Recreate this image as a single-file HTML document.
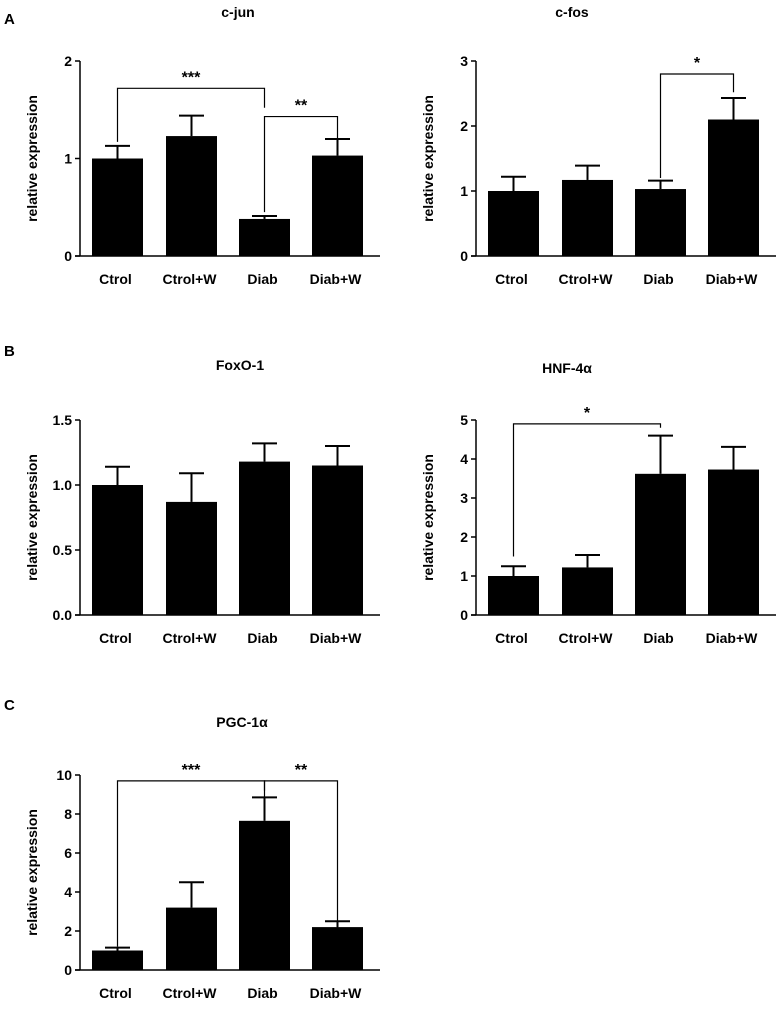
<!DOCTYPE html>
<html><head><meta charset="utf-8"><style>
body{margin:0;background:#fff;}
svg text{font-family:"Liberation Sans",Arial,sans-serif;font-weight:bold;fill:#000;}
</style></head><body>
<svg id="fig" width="780" height="1008" xmlns="http://www.w3.org/2000/svg">
<text x="4" y="24" font-size="15">A</text>
<text x="4" y="356" font-size="15">B</text>
<text x="4" y="710" font-size="15">C</text>
</svg>
<script>
const categories=["Ctrol","Ctrol+W","Diab","Diab+W"];
const cjunVals=[1,1.23,0.38,1.03];
const cjunErr=[0.13,0.21,0.03,0.17];
const cjunTicks=["0","1","2"];
const cfosVals=[1,1.17,1.03,2.1];
const cfosErr=[0.22,0.22,0.13,0.33];
const cfosTicks=["0","1","2","3"];
const foxVals=[1,0.87,1.18,1.15];
const foxErr=[0.14,0.22,0.14,0.15];
const foxTicks=["0.0","0.5","1.0","1.5"];
const hnfVals=[1,1.22,3.62,3.73];
const hnfErr=[0.25,0.32,0.98,0.58];
const hnfTicks=["0","1","2","3","4","5"];
const pgcVals=[1,3.2,7.65,2.2];
const pgcErr=[0.15,1.3,1.2,0.3];
const pgcTicks=["0","2","4","6","8","10"];
// brackets: [fromIdx,toIdx,level,fromLow,toLow,label]
const cjunBr=[[0,2,1.72,1.17,1.52,"***"],[2,3,1.43,0.45,1.2,"**"]];
const cfosBr=[[2,3,2.8,1.2,2.52,"*"]];
const hnfBr=[[0,2,4.9,1.5,4.8,"*"]];
const pgcBr=[[0,2,9.7,1.2,9.2,"***"],[2,3,9.7,8.9,1.5,"**"]];

const svg=document.getElementById('fig');
const NS="http://www.w3.org/2000/svg";
function mk(tag,attrs,parent){const e=document.createElementNS(NS,tag);for(const k in attrs)e.setAttribute(k,attrs[k]);(parent||svg).appendChild(e);return e;}

function panel(id,title,vals,errs,ticks,brs,ax,y0,ytop,titleX,titleY){
  const g=mk('g',{});
  
  
  const maxV=parseFloat(ticks[ticks.length-1]);
  const minV=parseFloat(ticks[0]);
  const Y=v=>y0-(v-minV)/(maxV-minV)*(y0-ytop);
  const bx=[ax+12,ax+86,ax+159,ax+232], bw=51;
  const X=i=>bx[i]+bw/2;
  const t=mk('text',{x:titleX,y:titleY,'font-size':14,'text-anchor':'middle'},g);t.textContent=title;
  
  
  const yl=mk('text',{transform:`translate(${ax-43},${(y0+ytop)/2}) rotate(-90)`,'font-size':14,'text-anchor':'middle'},g);
  yl.textContent='relative expression';
  
  
  const yAxis=mk('line',{x1:ax,y1:ytop,x2:ax,y2:y0,stroke:'#000','stroke-width':1.5},g);
  
  
  const xAxis=mk('line',{x1:ax-5,y1:y0,x2:ax+300,y2:y0,stroke:'#000','stroke-width':1.5},g);
  
  
  ticks.forEach(tk=>{
    const y=Y(parseFloat(tk));
    mk('line',{x1:ax-5,y1:y,x2:ax,y2:y,stroke:'#000','stroke-width':1.5},g);
    const tt=mk('text',{x:ax-8,y:y+5,'font-size':14,'text-anchor':'end'},g);tt.textContent=tk;
    
    
  });
  categories.forEach((c,i)=>{
    const r=mk('rect',{x:bx[i],y:Y(vals[i]),width:bw,height:y0-Y(vals[i]),fill:'#000'},g);
    
    
    const et=Y(vals[i]+errs[i]);
    const e1=mk('line',{x1:X(i),y1:Y(vals[i]),x2:X(i),y2:et,stroke:'#000','stroke-width':2},g);
    
    
    mk('line',{x1:X(i)-12.5,y1:et,x2:X(i)+12.5,y2:et,stroke:'#000','stroke-width':2},g);
    const lt=mk('text',{x:X(i)-2,y:y0+28,'font-size':14,'text-anchor':'middle'},g);lt.textContent=c;
    
    
  });
  brs.forEach(b=>{
    const yb=Y(b[2]);
    const p=mk('polyline',{points:`${X(b[0])},${Y(b[3])} ${X(b[0])},${yb} ${X(b[1])},${yb} ${X(b[1])},${Y(b[4])}`,fill:'none',stroke:'#000','stroke-width':1.2},g);
    
    
    const s=mk('text',{x:(X(b[0])+X(b[1]))/2,y:yb-6,'font-size':16,'text-anchor':'middle'},g);s.textContent=b[5];
    
    
  });
}
panel('c-jun','c-jun',cjunVals,cjunErr,cjunTicks,cjunBr,80,256,61,238,17);
panel('c-fos','c-fos',cfosVals,cfosErr,cfosTicks,cfosBr,476,256,61,572,17);
panel('foxo-1','FoxO-1',foxVals,foxErr,foxTicks,[],80,615,420,240,370);
panel('hnf-4a','HNF-4α',hnfVals,hnfErr,hnfTicks,hnfBr,476,615,420,567,373);
panel('pgc-1a','PGC-1α',pgcVals,pgcErr,pgcTicks,pgcBr,80,970,775,242,727);
</script>
</body></html>
